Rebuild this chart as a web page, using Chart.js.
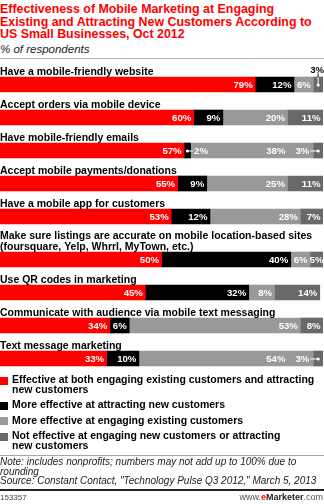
<!DOCTYPE html>
<html><head><meta charset="utf-8">
<script src="https://cdn.jsdelivr.net/npm/chart.js@4.4.1/dist/chart.umd.min.js"></script>
<style>
html,body{margin:0;padding:0;background:#fff;}
body{width:324px;height:504px;position:relative;overflow:hidden;font-family:"Liberation Sans",Arial,Helvetica,sans-serif;color:#000;}
#title{position:absolute;left:0;top:3px;width:330px;font-weight:bold;font-size:12.4px;line-height:12.6px;color:#ff0000;white-space:nowrap;}
#subtitle{position:absolute;left:0;top:43px;font-style:italic;font-size:11.5px;line-height:13px;color:#222;}
#sep{position:absolute;left:0;top:58px;width:324px;height:1px;background:#b0b0b0;}
.wrap{position:absolute;left:0;width:324px;}
#w1{top:59px;height:174px;}
#w2{top:226px;height:149px;}
#legend{position:absolute;left:0;top:375px;width:324px;}
.li{position:relative;padding-left:12px;font-weight:bold;font-size:10.5px;line-height:9.8px;margin-bottom:5.7px;white-space:nowrap;}
.li .sw{position:absolute;left:0;top:1.5px;width:8px;height:8px;}
#gline{position:absolute;left:0;top:455px;width:324px;height:1px;background:#a8a8a8;}
#note{position:absolute;left:0;top:457px;width:324px;font-style:italic;font-size:10px;line-height:9.6px;color:#222;white-space:nowrap;}
#bline{position:absolute;left:0;top:489px;width:324px;height:2px;background:#222;}
#id{position:absolute;left:0;top:493px;font-size:8px;line-height:9px;color:#444;}
#brand{position:absolute;right:1px;top:492px;font-size:9px;line-height:10px;color:#555;}
#brand b{color:#222;}
#brand .e{color:#ff0000;font-weight:bold;}
</style></head><body>
<div id="title">Effectiveness of Mobile Marketing at Engaging<br>Existing and Attracting New Customers According to<br>US Small Businesses, Oct 2012</div>
<div id="subtitle">% of respondents</div>
<div id="sep"></div>
<div class="wrap" id="w1"><canvas id="c1" width="324" height="174"></canvas></div>
<div class="wrap" id="w2"><canvas id="c2" width="324" height="149"></canvas></div>
<div id="legend"></div>
<div id="gline"></div>
<div id="note">Note: includes nonprofits; numbers may not add up to 100% due to<br>rounding<br>Source: Constant Contact, "Technology Pulse Q3 2012," March 5, 2013</div>
<div id="bline"></div>
<div id="id">153357</div>
<div id="brand">www.<span class="e">e</span><b>Marketer</b>.com</div>
<script>
// ---- data ----
const categories = [
  ["Have a mobile-friendly website"],
  ["Accept orders via mobile device"],
  ["Have mobile-friendly emails"],
  ["Accept mobile payments/donations"],
  ["Have a mobile app for customers"],
  ["Make sure listings are accurate on mobile location-based sites", "(foursquare, Yelp, Whrrl, MyTown, etc.)"],
  ["Use QR codes in marketing"],
  ["Communicate with audience via mobile text messaging"],
  ["Text message marketing"]
];
const effectiveBoth    = [79, 60, 57, 55, 53, 50, 45, 34, 33];
const attractingNew    = [12,  9,  2,  9, 12, 40, 32,  6, 10];
const engagingExisting = [ 6, 20, 38, 25, 28,  6,  8, 53, 54];
const notEffective     = [ 3, 11,  3, 11,  7,  5, 14,  8,  3];
const seriesNames = [
  "Effective at both engaging existing customers and attracting new customers",
  "More effective at attracting new customers",
  "More effective at engaging existing customers",
  "Not effective at engaging new customers or attracting new customers"
];
const legendLines = [
  ["Effective at both engaging existing customers and attracting", "new customers"],
  ["More effective at attracting new customers"],
  ["More effective at engaging existing customers"],
  ["Not effective at engaging new customers or attracting", "new customers"]
];
const seriesValues = [effectiveBoth, attractingNew, engagingExisting, notEffective];
const seriesColors = ["#ff0000", "#000000", "#999999", "#696969"];

// ---- legend ----
const lg = document.getElementById('legend');
legendLines.forEach((lines, k) => {
  const d = document.createElement('div');
  d.className = 'li';
  d.title = seriesNames[k];
  d.innerHTML = '<span class="sw" style="background:' + seriesColors[k] + '"></span>' + lines.join('<br>');
  lg.appendChild(d);
});

// ---- plugin: category labels above bars + value labels ----
const LABEL_FONT = 'bold 10.5px "Liberation Sans", Arial, sans-serif';
const VALUE_FONT = 'bold 9.6px "Liberation Sans", Arial, sans-serif';
const rowLabels = {
  id: 'rowLabels',
  afterDatasetsDraw(chart) {
    const ctx = chart.ctx;
    const xs = chart.scales.x;
    const n = chart.data.labels.length;
    const nds = chart.data.datasets.length;
    ctx.save();
    for (let i = 0; i < n; i++) {
      const m0 = chart.getDatasetMeta(0).data[i];
      const top = m0.y - m0.height / 2;
      const cy = m0.y + 0.5;
      // category label
      ctx.font = LABEL_FONT;
      ctx.fillStyle = '#000';
      ctx.textAlign = 'left';
      ctx.textBaseline = 'alphabetic';
      const lines = chart.data.labels[i];
      lines.forEach((ln, j) => {
        ctx.fillText(ln, xs.left, top - 2.5 - (lines.length - 1 - j) * 10.5);
      });
      // value labels
      ctx.font = VALUE_FONT;
      const segs = [];
      for (let k = 0; k < nds; k++) {
        const el = chart.getDatasetMeta(k).data[i];
        const v = chart.data.datasets[k].data[i];
        const start = Math.min(el.x, el.base), fullEnd = Math.max(el.x, el.base);
        const end = Math.min(fullEnd, xs.right);
        const txt = v + '%';
        const tw = ctx.measureText(txt).width;
        segs.push({ start, end, w: fullEnd - start, txt, tw, mode: 'in', right: end - 2.5 });
      }
      // decide placements
      segs.forEach((s, k) => {
        if (s.w >= s.tw + 1) { s.mode = s.w < s.tw + 5 ? 'center' : 'in'; return; }
        if (k === nds - 1) {
          const p = segs[k - 1];
          if (p.w >= p.tw + s.tw + 24) {
            s.mode = 'left';
            p.right = Math.min(p.right, s.start - 4 - s.tw - 10);
          } else s.mode = 'above';
        } else s.mode = 'rightOut';
      });
      segs.forEach((s, k) => {
        const mid = (s.start + s.end) / 2;
        ctx.lineWidth = 1;
        ctx.textBaseline = 'middle';
        ctx.fillStyle = '#fff';
        ctx.strokeStyle = '#fff';
        if (s.mode === 'in') {
          ctx.textAlign = 'right';
          ctx.fillText(s.txt, s.right, cy);
        } else if (s.mode === 'center') {
          ctx.textAlign = 'center';
          ctx.fillText(s.txt, Math.min(mid, xs.right + 1 - s.tw / 2), cy);
        } else if (s.mode === 'left') {
          ctx.textAlign = 'right';
          ctx.fillText(s.txt, s.start - 4, cy);
          ctx.beginPath(); ctx.moveTo(s.start - 3, cy); ctx.lineTo(mid, cy); ctx.stroke();
          ctx.beginPath(); ctx.arc(mid, cy, 1.6, 0, Math.PI * 2); ctx.fill();
        } else if (s.mode === 'rightOut') {
          const nx = segs[k + 1].start;
          ctx.beginPath(); ctx.arc(mid, cy, 1.6, 0, Math.PI * 2); ctx.fill();
          ctx.beginPath(); ctx.moveTo(mid, cy); ctx.lineTo(nx + 2.5, cy); ctx.stroke();
          ctx.textAlign = 'left';
          ctx.fillText(s.txt, nx + 3.5, cy);
        } else {
          ctx.fillStyle = '#000';
          ctx.strokeStyle = '#000';
          ctx.textAlign = 'center';
          ctx.textBaseline = 'alphabetic';
          const lx = Math.min(mid, xs.right + 1 - s.tw / 2);
          ctx.fillText(s.txt, lx, top - 4.5);
          ctx.beginPath(); ctx.moveTo(mid, top - 3.5); ctx.lineTo(mid, top); ctx.stroke();
          ctx.strokeStyle = '#fff'; ctx.fillStyle = '#fff';
          ctx.beginPath(); ctx.moveTo(mid, top); ctx.lineTo(mid, cy); ctx.stroke();
          ctx.beginPath(); ctx.arc(mid, cy, 1.6, 0, Math.PI * 2); ctx.fill();
        }
      });
    }
    ctx.restore();
  }
};

function makeChart(id, from, to, padTop) {
  return new Chart(document.getElementById(id), {
    type: 'bar',
    data: {
      labels: categories.slice(from, to),
      datasets: seriesValues.map((vals, k) => ({
        label: seriesNames[k],
        data: vals.slice(from, to),
        backgroundColor: seriesColors[k],
        borderWidth: 0,
        barThickness: 15
      }))
    },
    options: {
      indexAxis: 'y',
      responsive: false,
      animation: false,
      layout: { padding: { top: padTop, left: 0, right: 1, bottom: 0 } },
      scales: {
        x: { stacked: true, min: 0, max: 100, display: false },
        y: { stacked: true, display: false }
      },
      plugins: { legend: { display: false }, tooltip: { enabled: false } }
    },
    plugins: [rowLabels]
  });
}
makeChart('c1', 0, 5, 9);
makeChart('c2', 5, 9, 17);
</script>
</body></html>
